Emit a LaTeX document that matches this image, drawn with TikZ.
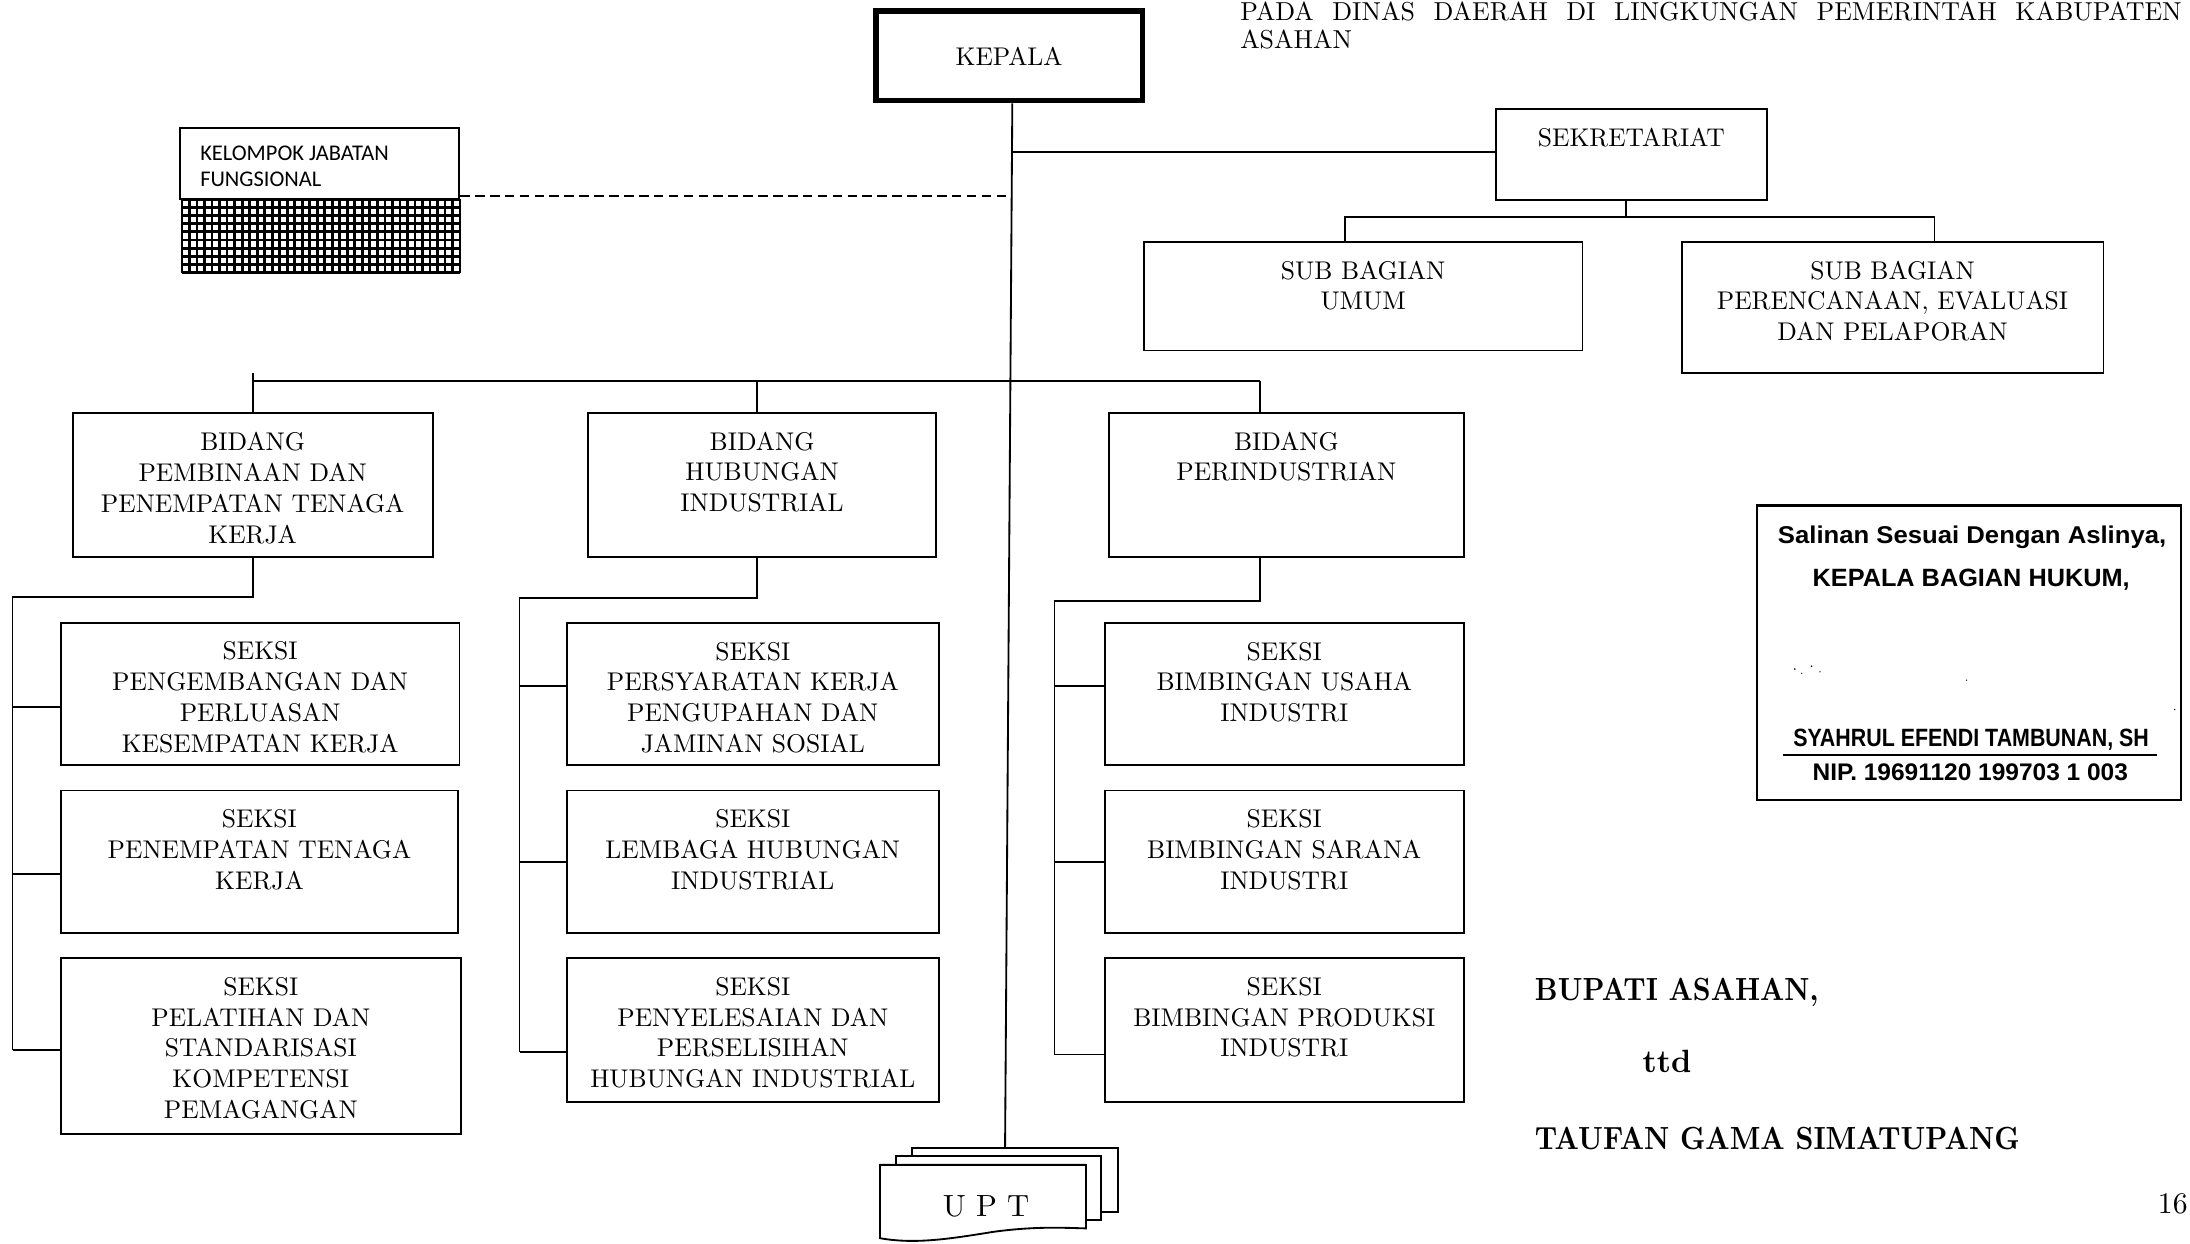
\documentclass[tikz,border=0pt]{standalone}
\usepackage{fontspec}
\usepackage{graphicx}
\usetikzlibrary{fit,calc}
\setmainfont{lmroman10-regular}[Extension=.otf, BoldFont=lmroman10-bold]
\newfontfamily\stampfont{Liberation Sans}
\newfontfamily\labelsans{Carlito}
\newlength\px
\setlength\px{0.028cm}

\tikzset{
  orgbox/.style={draw, line width=1.05pt, inner sep=0pt, outer sep=0pt},
  orgtext/.style={anchor=north, inner sep=0pt, align=center,
                  font=\fontsize{14.6}{17.6}\selectfont},
  link/.style={line width=1.05pt},
  dotlink/.style={line width=1.05pt, dash pattern=on 5.5pt off 3pt},
  plain/.style={inner sep=0pt, outer sep=0pt},
}

% box with its caption set near the top edge
\newcommand\orgunit[6]{%
  \node[orgbox, fit={(#2,#3) (#4,#5)}] (#1) {};
  \node[orgtext] (#1-t) at ($(#1.north)+(0,13.4)$) {#6};}

\begin{document}
\begin{tikzpicture}[x=0.028cm, y=-0.028cm]
\useasboundingbox (0,0) rectangle (1568,890);

% heading text
\node[plain, anchor=base west, font=\fontsize{14.8}{17}\selectfont] (hd1) at (888,14.5)
  {\makebox[674\px][s]{PADA DINAS DAERAH DI LINGKUNGAN PEMERINTAH KABUPATEN}};
\node[plain, anchor=base west, font=\fontsize{14.8}{17}\selectfont] (hd2) at (888,35) {ASAHAN};

% head of office
\node[draw, line width=3.2pt, inner sep=0pt, fit={(627,8) (818,72)}] (kepala) {};
\node[plain, font=\fontsize{14.6}{17}\selectfont] (kepala-t) at (kepala.center) {KEPALA};

% functional group with hatched block
\node[orgbox, fit={(129,91.9) (328.6,142.7)}] (kelompok) {};
\node[plain, anchor=north west, align=left, font=\labelsans\fontsize{12.8}{14.8}\selectfont]
  (kelompok-t) at (143.4,104.3) {KELOMPOK JABATAN\\FUNGSIONAL};
\node[plain, fit={(130.3,142.7) (329.4,195.2)}, fill=white] (hatch) {};
\foreach \i in {0,...,37}
  \draw[line width=1.6pt] ({130.3+\i*199.1/37},142.7) -- ({130.3+\i*199.1/37},195.2);
\foreach \j in {0,...,9}
  \draw[line width=1.6pt] (130.3,{142.7+\j*52.5/9}) -- (329.4,{142.7+\j*52.5/9});

% secretariat and its sub-units
\orgunit{sek}{1071.1}{78.3}{1265}{143.2}{SEKRETARIAT}
\orgunit{sub1}{819}{173}{1133}{251}{SUB BAGIAN\\UMUM}
\orgunit{sub2}{1204}{173}{1506}{267}{SUB BAGIAN\\PERENCANAAN, EVALUASI\\DAN PELAPORAN}

% divisions
\orgunit{bid1}{52}{295.8}{309.8}{398.6}{BIDANG\\PEMBINAAN DAN\\PENEMPATAN TENAGA\\KERJA}
\orgunit{bid2}{421.2}{295.5}{670}{398.6}{BIDANG\\HUBUNGAN\\INDUSTRIAL}
\orgunit{bid3}{794}{295.5}{1048}{398.6}{BIDANG\\PERINDUSTRIAN}

% sections
\orgunit{s11}{43.5}{445.8}{329}{548}{SEKSI\\PENGEMBANGAN DAN\\PERLUASAN\\KESEMPATAN KERJA}
\orgunit{s12}{43.5}{566}{328}{668}{SEKSI\\PENEMPATAN TENAGA\\KERJA}
\orgunit{s13}{43.5}{686}{330}{812}{SEKSI\\PELATIHAN DAN\\STANDARISASI\\KOMPETENSI\\PEMAGANGAN}
\orgunit{s21}{406}{446}{672}{548}{SEKSI\\PERSYARATAN KERJA\\PENGUPAHAN DAN\\JAMINAN SOSIAL}
\orgunit{s22}{406}{566}{672}{668}{SEKSI\\LEMBAGA HUBUNGAN\\INDUSTRIAL}
\orgunit{s23}{406}{686}{672}{789}{SEKSI\\PENYELESAIAN DAN\\PERSELISIHAN\\HUBUNGAN INDUSTRIAL}
\orgunit{s31}{791}{446}{1048}{548}{SEKSI\\BIMBINGAN USAHA\\INDUSTRI}
\orgunit{s32}{791}{566}{1048}{668}{SEKSI\\BIMBINGAN SARANA\\INDUSTRI}
\orgunit{s33}{791}{686}{1048}{789}{SEKSI\\BIMBINGAN PRODUKSI\\INDUSTRI}

% technical units: three stacked documents
\draw[line width=1.05pt, fill=white] (653,822) rectangle (800.5,867.6);
\draw[line width=1.05pt, fill=white] (641.5,827.7) rectangle (788,873.5);
\draw[line width=1.05pt, fill=white] (630,834) -- (777.6,834) -- (777.6,879.5)
  .. controls (760,879) and (740,878) .. (711,882)
  .. controls (680,887) and (655,891) .. (630,886.5) -- cycle;
\node[plain, anchor=base, font=\fontsize{17.5}{21}\selectfont] (upt) at (706,871) {U P T};
\coordinate (upt-top) at (719.6,822);

% main vertical line
\coordinate (spine-top) at (724.8,74);
\draw[link] (spine-top) -- (upt-top);
\coordinate (j-sek)  at ($(spine-top)!{(109-74)/748}!(upt-top)$);
\coordinate (j-fung) at ($(spine-top)!{(140.1-74)/748}!(upt-top)$);

\draw[link] (j-sek) -- (j-sek -| sek.west);
\draw[dotlink] (hatch.east |- j-fung) -- (j-fung);

% secretariat branches
\coordinate (sb) at (1164,155.2);
\draw[link] (sb |- sek.south) -- (sb);
\coordinate (sb1) at (963,155.2);
\coordinate (sb2) at (1385,155.2);
\draw[link] (sb1 |- sub1.north) -- (sb1) -- (sb2) -- (sb2 |- sub2.north);

% division bar
\coordinate (bar1) at (181,272.6);
\coordinate (bar2) at (541.8,272.6);
\coordinate (bar3) at (902,272.6);
\draw[link] (bar1) -- (bar3);
\draw[link] (181,267) -- (bar1 |- bid1.north);
\draw[link] (bar2) -- (bar2 |- bid2.north);
\draw[link] (bar3) -- (bar3 |- bid3.north);

% section trees
\coordinate (c1) at (9,427.2);
\draw[link] (bid1.south) |- (c1) -- (9,752);
\draw[link] (9,506) -- (9,506 -| s11.west);
\draw[link] (9,626) -- (9,626 -| s12.west);
\draw[link] (9,752) -- (9,752 -| s13.west);

\coordinate (c2) at (372,428);
\draw[link] (bid2.south -| bar2) -- (bar2 |- c2) -- (c2) -- (372,753);
\draw[link] (372,491) -- (372,491 -| s21.west);
\draw[link] (372,617) -- (372,617 -| s22.west);
\draw[link] (372,753) -- (372,753 -| s23.west);

\coordinate (c3) at (755,430);
\draw[link] (bid3.south -| bar3) -- (bar3 |- c3) -- (c3) -- (755,755);
\draw[link] (755,491) -- (755,491 -| s31.west);
\draw[link] (755,617) -- (755,617 -| s32.west);
\draw[link] (755,755) -- (755,755 -| s33.west);

% certification stamp
\node[draw, line width=1.5pt, inner sep=0pt, fit={(1258,362) (1561.5,572.8)}] (stamp) {};
\node[plain, anchor=base west] (st1) at (1273,388.8)
  {\resizebox{278\px}{12.6\px}{\stampfont\bfseries Salinan Sesuai Dengan Aslinya,}};
\node[plain, anchor=base west] (st2) at (1297.8,420)
  {\resizebox{227\px}{12.5\px}{\stampfont\bfseries KEPALA BAGIAN HUKUM,}};
\node[plain, anchor=base west] (st3) at (1284,534.6)
  {\resizebox{254.6\px}{12.5\px}{\stampfont\bfseries SYAHRUL EFENDI TAMBUNAN, SH}};
\draw[line width=1.2pt] (1276.6,540.6) -- (1544,540.6);
\node[plain, anchor=base west] (st4) at (1297.8,558.5)
  {\resizebox{225.8\px}{12\px}{\stampfont\bfseries NIP. 19691120 199703 1 003}};
\fill (1285,479) circle (0.7) (1290,482) circle (0.5) (1297,477) circle (0.6)
      (1303,481) circle (0.5) (1408,487) circle (0.5) (1557,508) circle (0.6);

% signature block
\node[plain, anchor=base west] (sig1) at (1099,716)
  {\resizebox{203\px}{16\px}{\bfseries BUPATI ASAHAN,}};
\node[plain, anchor=base west] (sig2) at (1176,768)
  {\resizebox{35\px}{16\px}{\bfseries ttd}};
\node[plain, anchor=base west] (sig3) at (1099,823)
  {\resizebox{347\px}{16\px}{\bfseries TAUFAN GAMA SIMATUPANG}};

% page number
\node[plain, anchor=base west, font=\fontsize{17}{21}\selectfont] (pg) at (1545,869) {16};
\end{tikzpicture}
\end{document}
